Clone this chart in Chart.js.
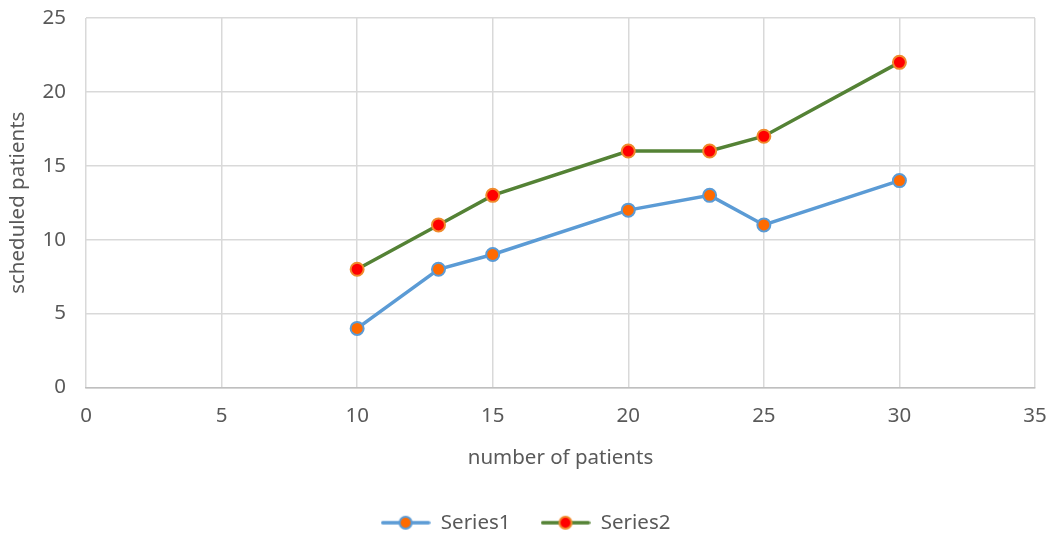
<!DOCTYPE html>
<html>
<head>
<meta charset="utf-8">
<script src="https://cdn.jsdelivr.net/npm/chart.js@4"></script>
<style>
  html, body { margin: 0; padding: 0; background: #fff; }
  #wrap { width: 1051px; height: 538px; position: relative; }
</style>
</head>
<body>
<div id="wrap"><canvas id="myChart"></canvas></div>
<script>
// data
const patients = [10, 13, 15, 20, 23, 25, 30];
const series1 = [4, 8, 9, 12, 13, 11, 14];
const series2 = [8, 11, 13, 16, 16, 17, 22];
const xTicks = [0, 5, 10, 15, 20, 25, 30, 35];
const yTicks = [0, 5, 10, 15, 20, 25];

const blue = '#5B9BD5';
const green = '#548235';
const orange = '#FF6A00';
const red = '#FF0000';
const ringOrange = '#F08A2C';

function legendIcon(lineColor, fill, ring) {
    const c = document.createElement('canvas');
    c.width = 50; c.height = 16;
    const g = c.getContext('2d');
    g.strokeStyle = lineColor;
    g.lineWidth = 3.5;
    g.lineCap = 'round';
    g.beginPath(); g.moveTo(2, 8); g.lineTo(48, 8); g.stroke();
    g.fillStyle = fill;
    g.strokeStyle = ring;
    g.lineWidth = 2;
    g.beginPath(); g.arc(25, 8, 6, 0, Math.PI * 2); g.fill(); g.stroke();
    return c;
}

function toPoints(xs, ys) {
    return xs.map((x, i) => ({ x: x, y: ys[i] }));
}

const font = { family: 'Noto Sans', size: 20.5 };
const textColor = '#595959';

const icons = [legendIcon(blue, orange, blue), legendIcon(green, red, ringOrange)];

new Chart(document.getElementById('myChart'), {
    type: 'scatter',
    data: {
        datasets: [
            {
                label: 'Series1',
                data: toPoints(patients, series1),
                showLine: true,
                borderColor: blue,
                borderWidth: 3.5,
                pointBackgroundColor: orange,
                pointBorderColor: blue,
                pointBorderWidth: 2,
                pointRadius: 6.5,
                pointHoverRadius: 6.5
            },
            {
                label: 'Series2',
                data: toPoints(patients, series2),
                showLine: true,
                borderColor: green,
                borderWidth: 3.5,
                pointBackgroundColor: red,
                pointBorderColor: ringOrange,
                pointBorderWidth: 2,
                pointRadius: 6.5,
                pointHoverRadius: 6.5
            }
        ]
    },
    options: {
        responsive: true,
        maintainAspectRatio: false,
        animation: false,
        layout: { padding: { top: 0, right: 0, left: 0, bottom: -5 } },
        plugins: {
            legend: {
                position: 'bottom',
                labels: {
                    font: font,
                    color: textColor,
                    usePointStyle: true,
                    pointStyleWidth: 50,
                    boxHeight: 16,
                    padding: 30,
                    generateLabels: chart => chart.data.datasets.map((ds, i) => ({
                        text: ds.label,
                        pointStyle: icons[i],
                        fontColor: textColor,
                        lineWidth: 0,
                        datasetIndex: i
                    }))
                }
            },
            tooltip: { enabled: false }
        },
        scales: {
            x: {
                type: 'linear',
                min: 0,
                max: 35,
                afterBuildTicks: s => { s.ticks = xTicks.map(v => ({ value: v })); },
                ticks: { font: font, color: textColor, padding: 16 },
                grid: { color: '#D9D9D9', lineWidth: 1.5, drawTicks: false },
                border: { color: '#BFBFBF', width: 1.5 },
                title: { display: true, text: 'number of patients', font: font, color: textColor, padding: { top: 14, bottom: 12 } },
                afterFit: s => { s.height = 95; s.paddingRight = 16; s.paddingLeft = 0; }
            },
            y: {
                min: 0,
                max: 25,
                afterBuildTicks: s => { s.ticks = yTicks.map(v => ({ value: v })); },
                ticks: { font: font, color: textColor, padding: 20 },
                grid: { color: '#D9D9D9', lineWidth: 1.5, drawTicks: false },
                border: { display: false },
                title: { display: true, text: 'scheduled patients', font: font, color: textColor, padding: { top: 6, bottom: 2 } },
                afterFit: s => { s.width = 86; s.paddingTop = 18; s.paddingBottom = 0; }
            }
        }
    }
});
</script>
</body>
</html>
